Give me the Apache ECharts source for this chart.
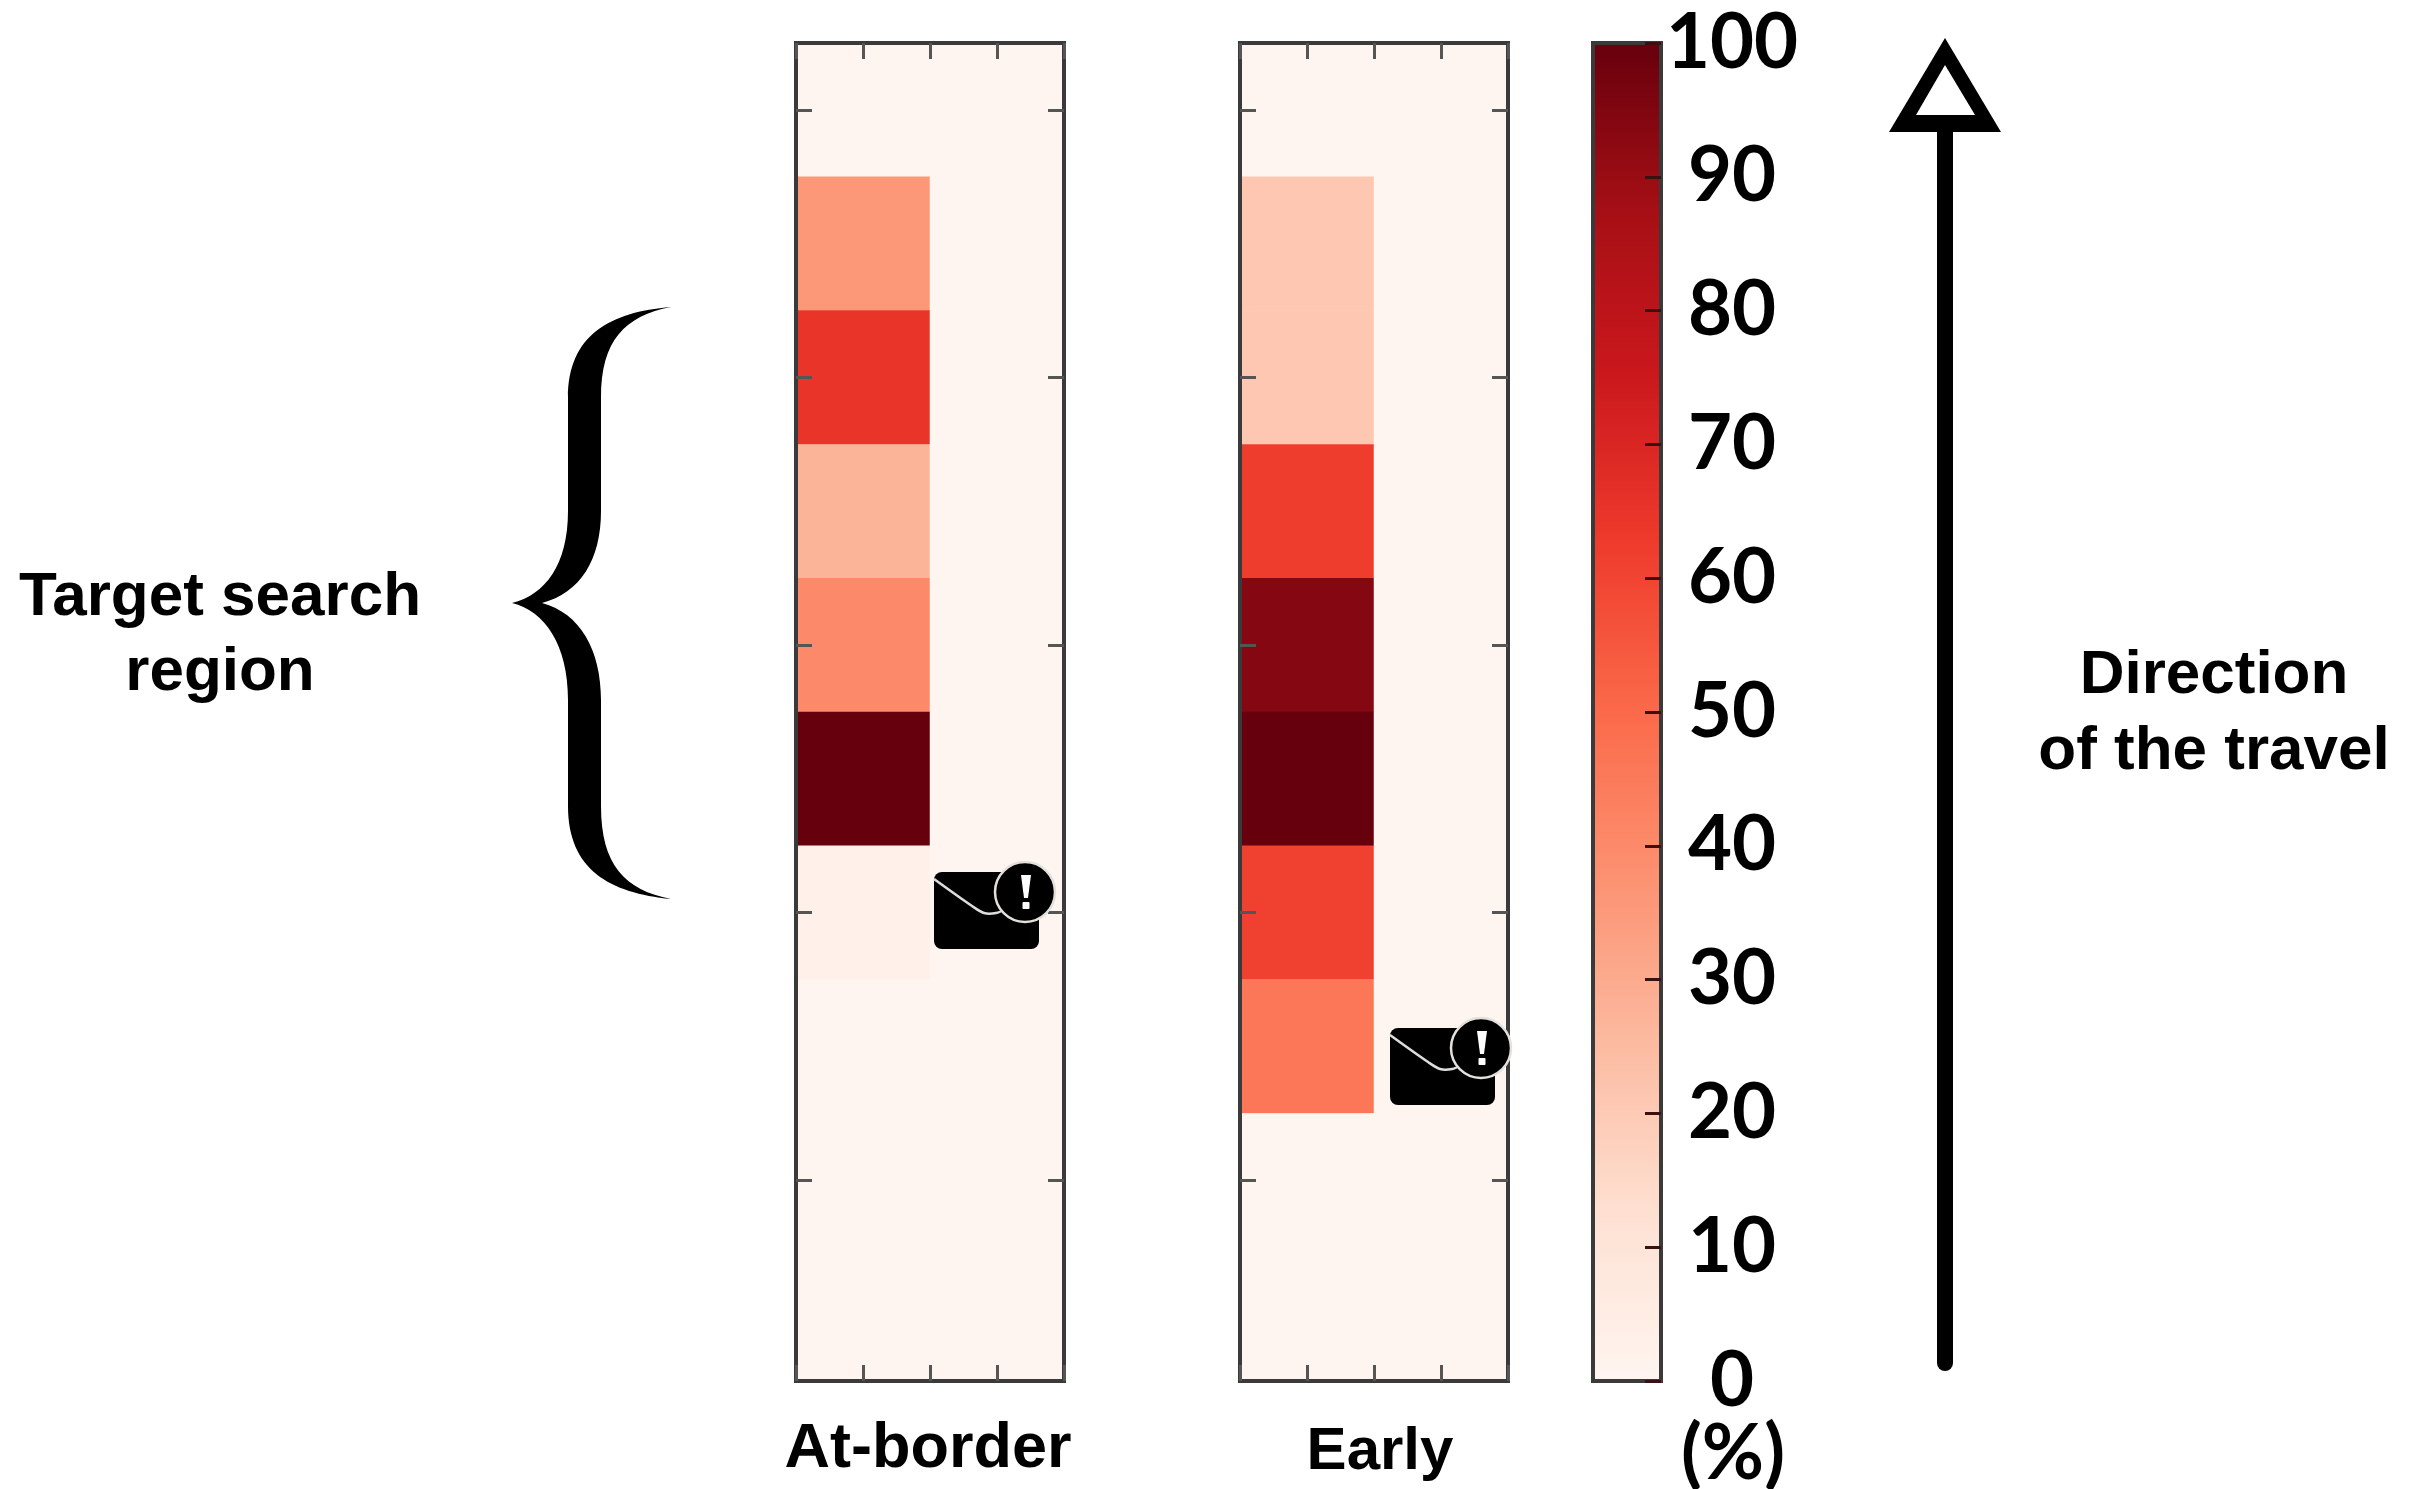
<!DOCTYPE html>
<html>
<head>
<meta charset="utf-8">
<style>html,body{margin:0;padding:0;background:#fff}#c{width:2421px;height:1489px}</style>
<script src="https://cdn.jsdelivr.net/npm/echarts@6/dist/echarts.min.js"></script>
</head>
<body>
<div id="c"></div>
<script>
const rows = ['r1','r2','r3','r4','r5','r6','r7','r8','r9','r10'];
const columns = ['c1','c2'];
const atBorderLeft  = [0, 36, 65, 27, 40, 100, 3, 0, 0, 0];
const atBorderRight = [0, 0, 0, 0, 0, 0, 0, 0, 0, 0];
const earlyLeft  = [0, 21, 21, 62, 94, 100, 61, 46, 0, 0];
const earlyRight = [0, 0, 0, 0, 0, 0, 0, 0, 0, 0];
const redsRamp = ['#fff5f0','#fee0d2','#fcbba1','#fc9272','#fb6a4a','#ef3b2c','#cb181d','#a50f15','#67000d'];
const panelTitles = ['At-border', 'Early'];

const frameColor = '#3a3a3a';
const LW = 4, TL = 16;
const FONT_HEAD = '"Liberation Sans", Arial, sans-serif';
const FONT_NUM = 'Lato, sans-serif';

echarts.graphic.registerShape('braceShape', echarts.graphic.extendPath(
  'M671 307 C610 312 568 335 568 398 L568 511 C568 565 545 595 512 603 ' +
  'C545 611 568 645 568 700 L568 806 C568 870 610 893 671 899 ' +
  'C625 890 601 865 601 806 L601 700 C601 650 580 613 542 603 ' +
  'C580 593 601 560 601 511 L601 398 C601 340 625 316 671 307 Z', {}));

function cells(left, right) {
  const out = [];
  rows.forEach((r, i) => { out.push([0, i, left[i]]); out.push([1, i, right[i]]); });
  return out;
}
const line = { show: true, onZero: false, lineStyle: { color: frameColor, width: LW, cap: 'square' } };
const gridTickX = pos => ({ gridIndex: 0, type: 'value', min: 0, max: 2, interval: 0.5, position: pos, z: 10,
  axisLine: line, axisLabel: { show: false }, splitLine: { show: false },
  axisTick: { show: true, inside: true, length: TL, lineStyle: { color: '#555', width: LW - 1 } } });
const catX = g => ({ gridIndex: g, type: 'category', data: columns, show: false });
const catY = (g, pos) => ({ gridIndex: g, type: 'category', data: rows, inverse: true, position: pos, z: 10,
  axisLine: line, axisLabel: { show: false }, splitLine: { show: false },
  axisTick: { show: true, inside: true, length: TL, alignWithLabel: true, interval: i => i % 2 === 0,
    lineStyle: { color: '#555', width: LW - 1 } } });

const xAxes = [], yAxes = [];
[0, 1].forEach(g => {
  xAxes.push(catX(g));
  xAxes.push(Object.assign(gridTickX('top'), { gridIndex: g }));
  xAxes.push(Object.assign(gridTickX('bottom'), { gridIndex: g }));
  yAxes.push(catY(g, 'left'));
  yAxes.push(catY(g, 'right'));
});
// colour bar frame, ticks and labels
const plain = pos => ({ gridIndex: 2, type: 'value', min: 0, max: 1, position: pos, z: 10, axisLine: line,
  axisTick: { show: false }, axisLabel: { show: false }, splitLine: { show: false } });
xAxes.push(plain('bottom'), plain('top'));
yAxes.push(plain('left'));
yAxes.push({ gridIndex: 2, type: 'value', min: 0, max: 100, interval: 10, position: 'right', z: 10, axisLine: line,
  splitLine: { show: false },
  axisTick: { show: true, inside: true, length: TL, lineStyle: { color: '#3a1010', width: LW - 1 } },
  axisLabel: { show: true, margin: 71, align: 'center', color: '#000', fontFamily: FONT_NUM, fontSize: 76, fontWeight: 'bold', padding: [0, 0, 4, 0] } });

function envelope(x, y) {
  return { type: 'group', x, y, children: [
    { type: 'rect', z: 30, shape: { x: 0, y: 0, width: 105, height: 77, r: 8 }, style: { fill: '#000' } },
    { type: 'polyline', z: 31, shape: { points: [[0, 7], [38, 34], [50, 41], [62, 41], [72, 37]], smooth: 0.3 }, style: { fill: null, stroke: '#ddd', lineWidth: 2.5 } },
    { type: 'circle', z: 32, shape: { cx: 91, cy: 20, r: 30 }, style: { fill: '#000', stroke: '#e4e0dc', lineWidth: 2.5 } },
    { type: 'polygon', z: 33, shape: { points: [[87, 3], [97, 3], [94, 26], [90, 26]] }, style: { fill: '#fff' } },
    { type: 'rect', z: 33, shape: { x: 88.5, y: 30, width: 7, height: 7, r: 1 }, style: { fill: '#fff' } }
  ] };
}
const heading = (text, x, y, font) => ({ type: 'text', x, y, z: 20, style: {
  text, fill: '#000', font: font, textAlign: 'center', textVerticalAlign: 'middle' } });
const bold = size => 'bold ' + size + 'px ' + FONT_HEAD;

const option = {
  animation: false,
  backgroundColor: '#fff',
  grid: [
    { left: 796, top: 43, width: 268, height: 1338 },
    { left: 1240, top: 43, width: 268, height: 1338 },
    { left: 1593, top: 43, width: 68, height: 1338 }
  ],
  xAxis: xAxes,
  yAxis: yAxes,
  visualMap: {
    type: 'continuous', min: 0, max: 100, seriesIndex: [0, 1], orient: 'vertical',
    left: 1593, top: 43, itemWidth: 68, itemHeight: 1338, padding: 0, text: null, showLabel: false,
    calculable: false, hoverLink: false, inRange: { color: redsRamp }, z: 1
  },
  series: [
    { type: 'heatmap', name: panelTitles[0], xAxisIndex: 0, yAxisIndex: 0, data: cells(atBorderLeft, atBorderRight), silent: true, z: 1 },
    { type: 'heatmap', name: panelTitles[1], xAxisIndex: 3, yAxisIndex: 2, data: cells(earlyLeft, earlyRight), silent: true, z: 1 }
  ],
  graphic: { elements: [
    heading(panelTitles[0], 928, 1450, bold(63)),
    heading(panelTitles[1], 1380, 1452, bold(60)),
    heading('(%)', 1733, 1454, 'bold 76px ' + FONT_NUM),
    heading('Target search', 220, 598, bold(62)),
    heading('region', 220, 673, bold(62)),
    heading('Direction', 2214, 676, bold(62)),
    heading('of the travel', 2214, 752, bold(62)),
    { type: 'braceShape', z: 20, style: { fill: '#000' } },
    { type: 'line', z: 20, shape: { x1: 1945, y1: 125, x2: 1945, y2: 1363 }, style: { stroke: '#000', lineWidth: 16, lineCap: 'round' } },
    { type: 'polygon', z: 21, shape: { points: [[1945, 38], [1889, 132], [2001, 132]] }, style: { fill: '#000' } },
    { type: 'polygon', z: 22, shape: { points: [[1945, 65], [1916, 115], [1975, 115]] }, style: { fill: '#fff' } },
    envelope(934, 872),
    envelope(1390, 1028)
  ] }
};
const chart = echarts.init(document.getElementById('c'), null, { renderer: 'canvas', width: 2421, height: 1489 });
chart.setOption(option);
</script>
</body>
</html>
